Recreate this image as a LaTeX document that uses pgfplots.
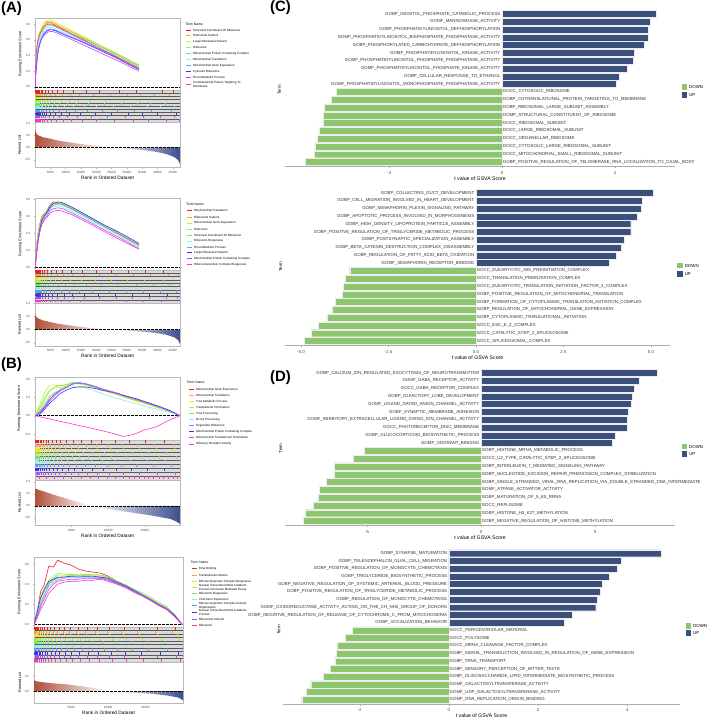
\documentclass[border=0pt]{standalone}
\usepackage{fontspec}
\setmainfont{Liberation Sans}
\usepackage{pgfplots}
\pgfplotsset{compat=1.18}
\definecolor{g1}{HTML}{FF1A1A}
\definecolor{g2}{HTML}{FFA033}
\definecolor{g3}{HTML}{E6E619}
\definecolor{g4}{HTML}{A6F233}
\definecolor{g5}{HTML}{66EE66}
\definecolor{g6}{HTML}{80F2F2}
\definecolor{g7}{HTML}{6699FF}
\definecolor{g8}{HTML}{3333FF}
\definecolor{g9}{HTML}{B84DFF}
\definecolor{g10}{HTML}{FF33CC}
\definecolor{upc}{HTML}{3B4F7D}
\definecolor{downc}{HTML}{8DC66E}
\definecolor{rankred}{HTML}{B0503A}
\definecolor{rankblue}{HTML}{3D4E8E}
\definecolor{tickgray}{HTML}{4D4D4D}
\newcommand{\fTick}{\fontsize{3.1}{3.5}\selectfont}
\newcommand{\fYl}{\fontsize{3.8}{4.2}\selectfont}
\newcommand{\fXl}{\fontsize{4.8}{5.2}\selectfont}
\newcommand{\fLeg}{\fontsize{3}{3.5}\selectfont}
\newcommand{\fLegT}{\fontsize{3.4}{3.8}\selectfont}
\newcommand{\fBar}{\fontsize{4.4}{4.8}\selectfont}
\newcommand{\fBT}{\fontsize{4.4}{4.8}\selectfont}
\newcommand{\fBX}{\fontsize{5.2}{5.6}\selectfont}
\newcommand{\fPan}{\fontsize{15}{17}\selectfont\bfseries}
\newcommand{\legent}[4]{%
  \draw[#3, line width=0.8pt] (#1,718-#2) -- ++(5,0);
  \node[anchor=west, font=\fLeg, inner sep=0pt, align=left] at (#1+7,718-#2) {#4};}
\pgfplotsset{
 gs/.style={scale only axis, width=145bp, xmin=0,
   axis line style={gray!55, line width=0.4pt},
   every tick/.style={gray!60, line width=0.3pt},
   major tick length=1.3bp, tick align=outside, xtick pos=left, ytick pos=left,
   tick label style={font=\fTick, text=tickgray},
   xticklabel style={yshift=1bp},
   xlabel style={font=\fXl, yshift=4.5bp},
   ylabel style={font=\fYl, yshift=-3bp},
   /pgf/number format/assume math mode=true,
   every axis plot/.append style={mark=none, line width=0.6pt}},
 gsrun/.style={gs, xtick=\empty, ylabel={Running Enrichment Score},
   yticklabel style={/pgf/number format/fixed, /pgf/number format/fixed zerofill, /pgf/number format/precision=1}},
 gshit/.style={gs, xtick=\empty, ymin=0, ymax=10, ytick={1,2,...,9}, yticklabels={},
   ytick style={draw=none}, ymajorgrids, major grid style={black!65, line width=0.3pt},
   axis background/.style={fill=gray!28}},
 gsrank/.style={gs, ylabel={Ranked List}, xlabel={Rank in Ordered Dataset}, scaled x ticks=false,
   xticklabel style={/pgf/number format/set thousands separator={}},
   ytick={-0.5,0,0.5,1},
   yticklabel style={/pgf/number format/fixed, /pgf/number format/fixed zerofill, /pgf/number format/precision=1}},
 hit/.style={only marks, mark=|, mark size=1.15bp, mark options={line width=0.3pt}},
 zl/.style={black, dash pattern=on 2.5bp off 1.5bp, line width=0.6pt},
 barax/.style={scale only axis, height=156.6bp, ymin=0.45, ymax=20.55,
   axis x line*=bottom, axis y line=none, ytick=\empty,
   axis line style={gray!65, line width=0.5pt},
   xtick style={gray!65, line width=0.4pt}, major tick length=2.2bp, tick align=outside,
   xticklabel style={font=\fBT, text=tickgray, yshift=1bp},
   xlabel={t value of GSVA Score}, xlabel style={font=\fBX, yshift=4.5bp},
   /pgf/number format/assume math mode=true, clip=false},
 upbar/.style={xbar, bar width=0.9, bar shift=0pt, fill=upc, draw=white!85!gray, line width=0.3pt},
 dnbar/.style={xbar, bar width=0.9, bar shift=0pt, fill=downc, draw=white!85!gray, line width=0.3pt},
 uplab/.style={draw=none, mark=none, nodes near coords, point meta=explicit symbolic,
   nodes near coords align={anchor=east},
   every node near coord/.append style={font=\fBar, inner sep=1.6bp, text=black!80}},
 dnlab/.style={draw=none, mark=none, nodes near coords, point meta=explicit symbolic,
   nodes near coords align={anchor=west},
   every node near coord/.append style={font=\fBar, inner sep=0.6bp, text=black!80}},
}
\begin{document}
\begin{tikzpicture}[x=1bp,y=1bp]
\useasboundingbox (0,0) rectangle (708,718);

% ================= (A) top =================
\node[anchor=west, font=\fPan, inner sep=0pt] at (1,709) {(A)};
\begin{axis}[gsrun, at={(35bp,628bp)}, anchor=south west, height=72bp, xmax=47400, ymin=-0.04, ymax=0.88, ytick={0,0.2,0.4,0.6,0.8}]
\addplot[zl] coordinates {(0,0)(47400,0)};
\addplot[g1] coordinates {(0,0)(200,0.28)(500,0.45)(900,0.58)(1400,0.66)(2000,0.70)(2600,0.76)(3300,0.79)(4200,0.82)(5000,0.82)(6500,0.79)(10000,0.72)(15000,0.62)(20000,0.52)(25000,0.42)(30000,0.32)(34000,0.24)};
\addplot[g2] coordinates {(0,0)(200,0.30)(500,0.48)(900,0.60)(1400,0.68)(2000,0.73)(2600,0.78)(3300,0.82)(4200,0.84)(5000,0.84)(6500,0.81)(10000,0.74)(15000,0.64)(20000,0.54)(25000,0.44)(30000,0.34)(34000,0.26)};
\addplot[g3] coordinates {(0,0)(200,0.29)(500,0.47)(900,0.60)(1400,0.69)(2000,0.74)(2600,0.79)(3300,0.83)(4200,0.85)(5000,0.86)(6500,0.83)(10000,0.76)(15000,0.66)(20000,0.56)(25000,0.46)(30000,0.36)(34000,0.27)};
\addplot[g4] coordinates {(0,0)(200,0.25)(500,0.42)(900,0.56)(1400,0.65)(2000,0.71)(2600,0.75)(3300,0.79)(4200,0.81)(5000,0.82)(6500,0.80)(10000,0.74)(15000,0.65)(20000,0.55)(25000,0.46)(30000,0.36)(34000,0.28)};
\addplot[g5] coordinates {(0,0)(200,0.22)(500,0.40)(900,0.53)(1400,0.62)(2000,0.68)(2600,0.72)(3300,0.76)(4200,0.78)(5000,0.79)(6500,0.77)(10000,0.71)(15000,0.63)(20000,0.54)(25000,0.45)(30000,0.35)(34000,0.27)};
\addplot[g6] coordinates {(0,0)(200,0.20)(500,0.38)(900,0.51)(1400,0.60)(2000,0.66)(2600,0.70)(3300,0.74)(4200,0.76)(5000,0.76)(6500,0.75)(10000,0.69)(15000,0.61)(20000,0.52)(25000,0.43)(30000,0.33)(34000,0.25)};
\addplot[g7] coordinates {(0,0)(200,0.15)(500,0.31)(900,0.45)(1400,0.55)(2000,0.62)(2600,0.67)(3300,0.71)(4200,0.73)(5000,0.74)(6500,0.73)(10000,0.67)(15000,0.59)(20000,0.50)(25000,0.41)(30000,0.31)(34000,0.23)};
\addplot[g8] coordinates {(0,0)(200,0.12)(500,0.27)(900,0.41)(1400,0.52)(2000,0.60)(2600,0.65)(3300,0.69)(4200,0.72)(5000,0.73)(6500,0.72)(10000,0.66)(15000,0.58)(20000,0.49)(25000,0.40)(30000,0.30)(34000,0.22)};
\addplot[g9] coordinates {(0,0)(200,0.14)(500,0.30)(900,0.43)(1400,0.53)(2000,0.60)(2600,0.64)(3300,0.67)(4200,0.70)(5000,0.71)(6500,0.70)(10000,0.64)(15000,0.55)(20000,0.46)(25000,0.37)(30000,0.28)(34000,0.20)};
\addplot[g10] coordinates {(0,0)(200,0.30)(500,0.47)(900,0.58)(1400,0.66)(2000,0.71)(2600,0.75)(3300,0.78)(4200,0.80)(5000,0.80)(6500,0.78)(10000,0.71)(15000,0.61)(20000,0.51)(25000,0.41)(30000,0.31)(34000,0.23)};
\end{axis}
\begin{axis}[gshit, at={(35bp,596bp)}, anchor=south west, height=32bp, xmax=47400]
\addplot[hit,g1] coordinates {(80,9.5)(250,9.5)(450,9.5)(700,9.5)(1000,9.5)(1400,9.5)(1900,9.5)(2500,9.5)(3300,9.5)(4300,9.5)(5600,9.5)(7200,9.5)(9300,9.5)(12500,9.5)(16800,9.5)(21000,9.5)(27500,9.5)(33000,9.5)(41500,9.5)(45000,9.5)};
\addplot[hit,g2] coordinates {(120,8.5)(330,8.5)(560,8.5)(850,8.5)(1200,8.5)(1650,8.5)(2200,8.5)(2900,8.5)(3800,8.5)(5000,8.5)(6500,8.5)(8800,8.5)(11500,8.5)(14500,8.5)(19000,8.5)(24500,8.5)(30000,8.5)(34500,8.5)(39000,8.5)(44000,8.5)};
\addplot[hit,g3] coordinates {(60,7.5)(200,7.5)(420,7.5)(650,7.5)(950,7.5)(1300,7.5)(1750,7.5)(2350,7.5)(3100,7.5)(4000,7.5)(5200,7.5)(6900,7.5)(9000,7.5)(12000,7.5)(15500,7.5)(20500,7.5)(26000,7.5)(31500,7.5)(35500,7.5)(46000,7.5)};
\addplot[hit,g4] coordinates {(150,6.5)(380,6.5)(620,6.5)(900,6.5)(1250,6.5)(1700,6.5)(2300,6.5)(3000,6.5)(3900,6.5)(5100,6.5)(6600,6.5)(8500,6.5)(11000,6.5)(14000,6.5)(18000,6.5)(23000,6.5)(29000,6.5)(34000,6.5)(38500,6.5)(43000,6.5)};
\addplot[hit,g5] coordinates {(100,5.5)(300,5.5)(520,5.5)(780,5.5)(1100,5.5)(1500,5.5)(2000,5.5)(2700,5.5)(3600,5.5)(4700,5.5)(6200,5.5)(8000,5.5)(10500,5.5)(13500,5.5)(17500,5.5)(22500,5.5)(28000,5.5)(33500,5.5)(37500,5.5)(42500,5.5)};
\addplot[hit,g6] coordinates {(200,4.5)(450,4.5)(700,4.5)(1000,4.5)(1400,4.5)(1900,4.5)(2500,4.5)(3300,4.5)(4300,4.5)(5600,4.5)(7300,4.5)(9500,4.5)(12500,4.5)(16000,4.5)(20000,4.5)(25500,4.5)(31000,4.5)(36500,4.5)(41000,4.5)(45500,4.5)};
\addplot[hit,g7] coordinates {(90,3.5)(280,3.5)(500,3.5)(760,3.5)(1080,3.5)(1480,3.5)(2000,3.5)(2650,3.5)(3500,3.5)(4600,3.5)(6000,3.5)(7800,3.5)(10200,3.5)(13200,3.5)(17000,3.5)(22000,3.5)(27000,3.5)(32500,3.5)(38000,3.5)(44500,3.5)};
\addplot[hit,g8] coordinates {(140,2.5)(360,2.5)(600,2.5)(880,2.5)(1220,2.5)(1650,2.5)(2200,2.5)(2900,2.5)(3800,2.5)(5000,2.5)(6500,2.5)(8500,2.5)(11200,2.5)(14800,2.5)(19500,2.5)(25000,2.5)(30500,2.5)(35000,2.5)(40000,2.5)(46000,2.5)};
\addplot[hit,g9] coordinates {(70,1.5)(240,1.5)(460,1.5)(720,1.5)(1040,1.5)(1440,1.5)(1950,1.5)(2600,1.5)(3450,1.5)(4550,1.5)(6000,1.5)(7900,1.5)(10400,1.5)(13800,1.5)(18200,1.5)(23500,1.5)(29500,1.5)(35500,1.5)(41000,1.5)(45500,1.5)};
\addplot[hit,g10] coordinates {(180,0.5)(420,0.5)(680,0.5)(980,0.5)(1350,0.5)(1800,0.5)(2400,0.5)(3150,0.5)(4100,0.5)(5400,0.5)(7000,0.5)(9100,0.5)(11900,0.5)(15500,0.5)(20000,0.5)(26000,0.5)(32000,0.5)(37000,0.5)(43000,0.5)(47000,0.5)};
\end{axis}
\begin{axis}[gsrank, at={(35bp,550.5bp)}, anchor=south west, height=45bp, xmax=47400, ymin=-0.82, ymax=1.02, xtick={5000,10000,...,45000}]
\addplot[draw=none, left color=rankred, right color=white] coordinates {(0,0)(0,0.77)(300,0.60)(1000,0.50)(2500,0.42)(5000,0.36)(7500,0.28)(10500,0.22)(15000,0.14)(20000,0.07)(24800,0)} \closedcycle;
\addplot[draw=none, left color=white, right color=rankblue] coordinates {(24800,0)(30000,-0.05)(35000,-0.10)(40000,-0.19)(43000,-0.27)(45600,-0.40)(46800,-0.52)(47400,-0.67)(47400,0)} \closedcycle;
\addplot[zl] coordinates {(0,0)(47400,0)};
\end{axis}
\begin{scope}
\clip (0,0) rectangle (258,718);
\node[anchor=west, font=\fLegT, inner sep=0pt] at (185.3,718-24.7) {Term Name};
\legent{186}{30}{g1}{Structural Constituent Of Ribosome}
\legent{186}{35.8}{g2}{Ribosomal Subunit}
\legent{186}{41.7}{g3}{Large Ribosomal Subunit}
\legent{186}{47.8}{g4}{Ribosome}
\legent{186}{53.8}{g5}{Mitochondrial Protein Containing Complex}
\legent{186}{59.7}{g6}{Mitochondrial Translation}
\legent{186}{65.7}{g7}{Mitochondrial Gene Expression}
\legent{186}{71.7}{g8}{Cytosolic Ribosome}
\legent{186}{77.7}{g9}{Rrna Metabolic Process}
\legent{186}{84.5}{g10}{Cotranslational Protein Targeting To\\Membrane}
\end{scope}

% ================= (A) bottom =================
\begin{axis}[gsrun, at={(35bp,448bp)}, anchor=south west, height=72bp, xmax=47400, ymin=-0.035, ymax=0.816, ytick={0,0.2,0.4,0.6,0.8}]
\addplot[zl] coordinates {(0,0)(47400,0)};
\addplot[g1] coordinates {(0,0)(300,0.14)(600,0.28)(1000,0.40)(1500,0.50)(2200,0.60)(3000,0.63)(4000,0.67)(5000,0.74)(6000,0.77)(7500,0.76)(9000,0.75)(12000,0.70)(17000,0.60)(22000,0.50)(28000,0.38)(34000,0.26)};
\addplot[g2] coordinates {(0,0)(300,0.13)(600,0.27)(1000,0.39)(1500,0.49)(2200,0.58)(3000,0.62)(4000,0.66)(5000,0.72)(6000,0.75)(7500,0.76)(9000,0.74)(12000,0.69)(17000,0.59)(22000,0.49)(28000,0.37)(34000,0.25)};
\addplot[g3] coordinates {(0,0)(300,0.12)(600,0.26)(1000,0.38)(1500,0.48)(2200,0.58)(3000,0.62)(4000,0.66)(5000,0.73)(6000,0.76)(7500,0.76)(9000,0.75)(12000,0.70)(17000,0.60)(22000,0.50)(28000,0.39)(34000,0.27)};
\addplot[g4] coordinates {(0,0)(300,0.13)(600,0.27)(1000,0.39)(1500,0.49)(2200,0.59)(3000,0.62)(4000,0.66)(5000,0.73)(6000,0.75)(7500,0.75)(9000,0.74)(12000,0.69)(17000,0.60)(22000,0.50)(28000,0.38)(34000,0.27)};
\addplot[g5] coordinates {(0,0)(300,0.12)(600,0.25)(1000,0.37)(1500,0.47)(2200,0.57)(3000,0.61)(4000,0.65)(5000,0.71)(6000,0.73)(7500,0.74)(9000,0.73)(12000,0.68)(17000,0.59)(22000,0.49)(28000,0.38)(34000,0.26)};
\addplot[g6] coordinates {(0,0)(300,0.10)(600,0.22)(1000,0.34)(1500,0.45)(2200,0.55)(3000,0.59)(4000,0.63)(5000,0.69)(6000,0.71)(7500,0.72)(9000,0.71)(12000,0.66)(17000,0.57)(22000,0.47)(28000,0.36)(34000,0.24)};
\addplot[g7] coordinates {(0,0)(300,0.09)(600,0.21)(1000,0.33)(1500,0.44)(2200,0.55)(3000,0.60)(4000,0.64)(5000,0.70)(6000,0.73)(7500,0.75)(9000,0.74)(12000,0.69)(17000,0.59)(22000,0.49)(28000,0.38)(34000,0.26)};
\addplot[g8] coordinates {(0,0)(300,0.08)(600,0.19)(1000,0.31)(1500,0.43)(2200,0.55)(3000,0.60)(4000,0.65)(5000,0.72)(6000,0.75)(7500,0.77)(9000,0.76)(12000,0.71)(17000,0.61)(22000,0.51)(28000,0.40)(34000,0.28)};
\addplot[g9] coordinates {(0,0)(300,0.09)(600,0.20)(1000,0.31)(1500,0.42)(2200,0.52)(3000,0.57)(4000,0.61)(5000,0.67)(6000,0.69)(7500,0.70)(9000,0.69)(12000,0.64)(17000,0.55)(22000,0.45)(28000,0.34)(34000,0.22)};
\addplot[g10] coordinates {(0,0)(300,0.08)(600,0.18)(1000,0.29)(1500,0.40)(2200,0.50)(3000,0.55)(4000,0.59)(5000,0.64)(6000,0.66)(7500,0.67)(9000,0.66)(12000,0.62)(17000,0.53)(22000,0.43)(28000,0.32)(34000,0.21)};
\end{axis}
\begin{axis}[gshit, at={(35bp,415bp)}, anchor=south west, height=33bp, xmax=47400]
\addplot[hit,g1] coordinates {(50,9.5)(220,9.5)(400,9.5)(640,9.5)(920,9.5)(1280,9.5)(1720,9.5)(2280,9.5)(3000,9.5)(3950,9.5)(5200,9.5)(6800,9.5)(8900,9.5)(11800,9.5)(15500,9.5)(20000,9.5)(25000,9.5)(30500,9.5)(36000,9.5)(42000,9.5)};
\addplot[hit,g2] coordinates {(170,8.5)(400,8.5)(650,8.5)(940,8.5)(1300,8.5)(1750,8.5)(2350,8.5)(3100,8.5)(4100,8.5)(5400,8.5)(7100,8.5)(9300,8.5)(12200,8.5)(16000,8.5)(21000,8.5)(26500,8.5)(32000,8.5)(37500,8.5)(43500,8.5)(46800,8.5)};
\addplot[hit,g3] coordinates {(110,7.5)(310,7.5)(540,7.5)(820,7.5)(1150,7.5)(1580,7.5)(2100,7.5)(2800,7.5)(3700,7.5)(4850,7.5)(6350,7.5)(8300,7.5)(10900,7.5)(14200,7.5)(18500,7.5)(23800,7.5)(29200,7.5)(34800,7.5)(40500,7.5)(45200,7.5)};
\addplot[hit,g4] coordinates {(30,6.5)(190,6.5)(380,6.5)(610,6.5)(890,6.5)(1230,6.5)(1660,6.5)(2200,6.5)(2900,6.5)(3800,6.5)(5000,6.5)(6600,6.5)(8700,6.5)(11400,6.5)(15000,6.5)(19600,6.5)(24800,6.5)(30200,6.5)(35800,6.5)(41800,6.5)};
\addplot[hit,g5] coordinates {(230,5.5)(480,5.5)(750,5.5)(1060,5.5)(1450,5.5)(1950,5.5)(2600,5.5)(3400,5.5)(4450,5.5)(5800,5.5)(7600,5.5)(9900,5.5)(12900,5.5)(16700,5.5)(21500,5.5)(27000,5.5)(33000,5.5)(38500,5.5)(43800,5.5)(47100,5.5)};
\addplot[hit,g6] coordinates {(90,4.5)(270,4.5)(480,4.5)(740,4.5)(1050,4.5)(1430,4.5)(1920,4.5)(2550,4.5)(3350,4.5)(4400,4.5)(5750,4.5)(7500,4.5)(9800,4.5)(12800,4.5)(16500,4.5)(21200,4.5)(26800,4.5)(32800,4.5)(39000,4.5)(44800,4.5)};
\addplot[hit,g7] coordinates {(140,3.5)(350,3.5)(590,3.5)(870,3.5)(1200,3.5)(1620,3.5)(2150,3.5)(2850,3.5)(3750,3.5)(4900,3.5)(6400,3.5)(8400,3.5)(11000,3.5)(14400,3.5)(18800,3.5)(24200,3.5)(29800,3.5)(35200,3.5)(40800,3.5)(46200,3.5)};
\addplot[hit,g8] coordinates {(60,2.5)(230,2.5)(440,2.5)(690,2.5)(990,2.5)(1360,2.5)(1830,2.5)(2430,2.5)(3200,2.5)(4200,2.5)(5500,2.5)(7200,2.5)(9400,2.5)(12300,2.5)(16100,2.5)(20800,2.5)(26200,2.5)(31800,2.5)(37200,2.5)(43200,2.5)};
\addplot[hit,g9] coordinates {(200,1.5)(440,1.5)(700,1.5)(1000,1.5)(1370,1.5)(1840,1.5)(2450,1.5)(3230,1.5)(4250,1.5)(5550,1.5)(7250,1.5)(9450,1.5)(12350,1.5)(16150,1.5)(20900,1.5)(26400,1.5)(31900,1.5)(37400,1.5)(42900,1.5)(46600,1.5)};
\addplot[hit,g10] coordinates {(20,0.5)(170,0.5)(360,0.5)(590,0.5)(870,0.5)(1210,0.5)(1640,0.5)(2180,0.5)(2880,0.5)(3780,0.5)(4950,0.5)(6500,0.5)(8500,0.5)(11100,0.5)(14600,0.5)(19100,0.5)(24400,0.5)(29800,0.5)(35400,0.5)(41400,0.5)};
\end{axis}
\begin{axis}[gsrank, at={(35bp,372bp)}, anchor=south west, height=43bp, xmax=47400, ymin=-0.62, ymax=1.0, xtick={5000,10000,...,45000}]
\addplot[draw=none, left color=rankred, right color=white] coordinates {(0,0)(0,0.60)(300,0.50)(1000,0.42)(2500,0.35)(5000,0.28)(7500,0.22)(10500,0.17)(15000,0.10)(20000,0.04)(24800,0)} \closedcycle;
\addplot[draw=none, left color=white, right color=rankblue] coordinates {(24800,0)(30000,-0.04)(35000,-0.08)(40000,-0.14)(43000,-0.20)(45600,-0.30)(46800,-0.40)(47400,-0.55)(47400,0)} \closedcycle;
\addplot[zl] coordinates {(0,0)(47400,0)};
\end{axis}
\begin{scope}
\clip (0,0) rectangle (258,718);
\node[anchor=west, font=\fLegT, inner sep=0pt] at (186,718-204.3) {Term Name};
\legent{187}{210.7}{g1}{Mitochondrial Translation}
\legent{187}{217}{g2}{Ribosomal Subunit}
\legent{187}{223}{g3}{Mitochondrial Gene Expression}
\legent{187}{229}{g4}{Ribosome}
\legent{187}{235}{g5}{Structural Constituent Of Ribosome}
\legent{187}{241}{g6}{Ribosome Biogenesis}
\legent{187}{247}{g7}{Rrna Metabolic Process}
\legent{187}{252.7}{g8}{Large Ribosomal Subunit}
\legent{187}{258.7}{g9}{Mitochondrial Protein Containing Complex}
\legent{187}{264.7}{g10}{Ribonucleoprotein Complex Biogenesis}
\end{scope}

% ================= (B) top =================
\node[anchor=west, font=\fPan, inner sep=0pt] at (1,718-365) {(B)};
\begin{axis}[gsrun, at={(35bp,278bp)}, anchor=south west, height=63bp, xmax=19800, ymin=-0.397, ymax=0.633, ytick={-0.3,0,0.3,0.6}]
\addplot[zl] coordinates {(0,0)(19800,0)};
\addplot[g1] coordinates {(0,0)(400,0.02)(900,0.08)(1400,0.15)(2000,0.26)(2700,0.36)(3400,0.42)(4300,0.47)(5200,0.53)(6000,0.54)(6800,0.52)(8000,0.48)(9500,0.42)(11000,0.37)(12500,0.31)(14000,0.25)(15500,0.19)(17000,0.13)(18500,0.07)(19800,0)};
\addplot[g2] coordinates {(0,0)(400,0.03)(900,0.10)(1400,0.18)(2000,0.30)(2700,0.38)(3400,0.43)(4300,0.48)(5200,0.52)(6000,0.53)(6800,0.51)(8000,0.47)(9500,0.41)(11000,0.36)(12500,0.30)(14000,0.24)(15500,0.19)(17000,0.13)(18500,0.07)(19800,0)};
\addplot[g3] coordinates {(0,0)(400,0.08)(900,0.20)(1400,0.32)(2000,0.42)(2700,0.45)(3400,0.46)(4300,0.48)(5200,0.52)(6000,0.52)(6800,0.50)(8000,0.46)(9500,0.40)(11000,0.35)(12500,0.29)(14000,0.23)(15500,0.18)(17000,0.12)(18500,0.06)(19800,0)};
\addplot[g4] coordinates {(0,0)(400,0.10)(900,0.25)(1400,0.40)(2000,0.50)(2700,0.50)(3400,0.49)(4300,0.50)(5200,0.54)(6000,0.53)(6800,0.51)(8000,0.47)(9500,0.41)(11000,0.36)(12500,0.30)(14000,0.25)(15500,0.19)(17000,0.13)(18500,0.07)(19800,0)};
\addplot[g5] coordinates {(0,0)(400,0.06)(900,0.16)(1400,0.28)(2000,0.40)(2700,0.47)(3400,0.49)(4300,0.51)(5200,0.55)(6000,0.54)(6800,0.52)(8000,0.48)(9500,0.42)(11000,0.37)(12500,0.31)(14000,0.26)(15500,0.20)(17000,0.14)(18500,0.07)(19800,0)};
\addplot[g6] coordinates {(0,0)(400,0.05)(900,0.12)(1400,0.22)(2000,0.32)(2700,0.38)(3400,0.42)(4300,0.46)(5200,0.49)(6000,0.48)(6800,0.46)(8000,0.41)(9500,0.35)(11000,0.29)(12500,0.24)(14000,0.19)(15500,0.14)(17000,0.09)(18500,0.05)(19800,0)};
\addplot[g7] coordinates {(0,0)(400,0.04)(900,0.10)(1400,0.18)(2000,0.27)(2700,0.35)(3400,0.41)(4300,0.47)(5200,0.53)(6000,0.54)(6800,0.53)(8000,0.49)(9500,0.43)(11000,0.38)(12500,0.32)(14000,0.27)(15500,0.21)(17000,0.15)(18500,0.08)(19800,0)};
\addplot[g8] coordinates {(0,0)(400,0.01)(900,0.05)(1400,0.12)(2000,0.20)(2700,0.28)(3400,0.36)(4300,0.42)(5200,0.46)(6000,0.47)(6800,0.47)(8000,0.45)(9500,0.41)(11000,0.37)(12500,0.32)(14000,0.27)(15500,0.21)(17000,0.15)(18500,0.08)(19800,0)};
\addplot[g9] coordinates {(0,0)(400,0.02)(900,0.07)(1400,0.14)(2000,0.24)(2700,0.33)(3400,0.40)(4300,0.46)(5200,0.52)(6000,0.53)(6800,0.52)(8000,0.48)(9500,0.42)(11000,0.37)(12500,0.31)(14000,0.26)(15500,0.20)(17000,0.14)(18500,0.07)(19800,0)};
\addplot[g10] coordinates {(0,0)(3000,-0.08)(6000,-0.16)(9000,-0.24)(11000,-0.30)(12000,-0.34)(13400,-0.31)(14800,-0.24)(16600,-0.18)(18000,-0.09)(19800,0)};
\end{axis}
\begin{axis}[gshit, at={(35bp,238bp)}, anchor=south west, height=40bp, xmax=19800]
\addplot[hit,mark size=1.5bp,g1] coordinates {(40,9.5)(150,9.5)(290,9.5)(450,9.5)(640,9.5)(870,9.5)(1140,9.5)(1460,9.5)(1840,9.5)(2300,9.5)(2850,9.5)(3500,9.5)(4300,9.5)(5200,9.5)(6300,9.5)(7600,9.5)(9100,9.5)(10900,9.5)(12900,9.5)(15100,9.5)(17600,9.5)};
\addplot[hit,mark size=1.5bp,g2] coordinates {(90,8.5)(220,8.5)(370,8.5)(550,8.5)(760,8.5)(1010,8.5)(1310,8.5)(1670,8.5)(2100,8.5)(2600,8.5)(3200,8.5)(3900,8.5)(4750,8.5)(5750,8.5)(6950,8.5)(8350,8.5)(10000,8.5)(11900,8.5)(14000,8.5)(16300,8.5)(18800,8.5)};
\addplot[hit,mark size=1.5bp,g3] coordinates {(20,7.5)(120,7.5)(250,7.5)(400,7.5)(580,7.5)(800,7.5)(1060,7.5)(1370,7.5)(1740,7.5)(2180,7.5)(2700,7.5)(3320,7.5)(4050,7.5)(4900,7.5)(5900,7.5)(7100,7.5)(8500,7.5)(10200,7.5)(12100,7.5)(14200,7.5)(16600,7.5)(19000,7.5)};
\addplot[hit,mark size=1.5bp,g4] coordinates {(60,6.5)(190,6.5)(340,6.5)(510,6.5)(710,6.5)(950,6.5)(1240,6.5)(1580,6.5)(1980,6.5)(2460,6.5)(3030,6.5)(3700,6.5)(4500,6.5)(5450,6.5)(6550,6.5)(7850,6.5)(9400,6.5)(11200,6.5)(13200,6.5)(15400,6.5)(17900,6.5)};
\addplot[hit,mark size=1.5bp,g5] coordinates {(110,5.5)(260,5.5)(420,5.5)(610,5.5)(840,5.5)(1110,5.5)(1430,5.5)(1810,5.5)(2260,5.5)(2790,5.5)(3420,5.5)(4170,5.5)(5050,5.5)(6080,5.5)(7300,5.5)(8750,5.5)(10450,5.5)(12400,5.5)(14600,5.5)(17000,5.5)(19300,5.5)};
\addplot[hit,mark size=1.5bp,g6] coordinates {(30,4.5)(160,4.5)(310,4.5)(480,4.5)(680,4.5)(920,4.5)(1200,4.5)(1540,4.5)(1940,4.5)(2410,4.5)(2970,4.5)(3630,4.5)(4410,4.5)(5330,4.5)(6420,4.5)(7700,4.5)(9200,4.5)(11000,4.5)(13000,4.5)(15300,4.5)(17800,4.5)};
\addplot[hit,mark size=1.5bp,g7] coordinates {(80,3.5)(210,3.5)(360,3.5)(540,3.5)(750,3.5)(1000,3.5)(1300,3.5)(1660,3.5)(2080,3.5)(2580,3.5)(3170,3.5)(3870,3.5)(4700,3.5)(5680,3.5)(6830,3.5)(8200,3.5)(9800,3.5)(11700,3.5)(13800,3.5)(16100,3.5)(18600,3.5)};
\addplot[hit,mark size=1.5bp,g8] coordinates {(50,2.5)(170,2.5)(320,2.5)(490,2.5)(690,2.5)(930,2.5)(1220,2.5)(1560,2.5)(1960,2.5)(2430,2.5)(3000,2.5)(3670,2.5)(4460,2.5)(5380,2.5)(6480,2.5)(7780,2.5)(9300,2.5)(11100,2.5)(13100,2.5)(15300,2.5)(17700,2.5)};
\addplot[hit,mark size=1.5bp,g9] coordinates {(100,1.5)(240,1.5)(400,1.5)(590,1.5)(810,1.5)(1070,1.5)(1380,1.5)(1750,1.5)(2190,1.5)(2710,1.5)(3330,1.5)(4060,1.5)(4920,1.5)(5930,1.5)(7120,1.5)(8530,1.5)(10180,1.5)(12100,1.5)(14250,1.5)(16650,1.5)(19200,1.5)};
\addplot[hit,mark size=1.5bp,g10] coordinates {(600,0.5)(1500,0.5)(2600,0.5)(3800,0.5)(5000,0.5)(6300,0.5)(7500,0.5)(8600,0.5)(9800,0.5)(10900,0.5)(12000,0.5)(12800,0.5)(13500,0.5)(14200,0.5)(14900,0.5)(15500,0.5)(16200,0.5)(16900,0.5)(17500,0.5)(18200,0.5)(18800,0.5)(19400,0.5)};
\end{axis}
\begin{axis}[gsrank, at={(35bp,192.5bp)}, anchor=south west, height=45.5bp, xmax=19800, ymin=-0.82, ymax=1.08, xtick={5000,10000,15000}]
\addplot[draw=none, left color=rankred, right color=white] coordinates {(0,0)(0,0.72)(1000,0.62)(2000,0.52)(3000,0.42)(4000,0.33)(5000,0.24)(6000,0.15)(7000,0.06)(7600,0)} \closedcycle;
\addplot[draw=none, left color=white, right color=rankblue] coordinates {(7600,0)(9000,-0.08)(11000,-0.18)(13000,-0.27)(15000,-0.36)(17000,-0.46)(18500,-0.55)(19300,-0.65)(19800,-0.76)(19800,0)} \closedcycle;
\addplot[zl] coordinates {(0,0)(19800,0)};
\end{axis}
\begin{scope}
\clip (0,0) rectangle (258,718);
\node[anchor=west, font=\fLegT, inner sep=0pt] at (186.7,718-382.7) {Term Name};
\legent{189}{389.7}{g1}{Mitochondrial Gene Expression}
\legent{189}{395.5}{g2}{Mitochondrial Translation}
\legent{189}{401.3}{g3}{Trna Metabolic Process}
\legent{189}{407.3}{g4}{Translational Termination}
\legent{189}{413.3}{g5}{Trna Processing}
\legent{189}{419.5}{g6}{Ncrna Processing}
\legent{189}{425.7}{g7}{Organellar Ribosome}
\legent{189}{431.7}{g8}{Mitochondrial Protein Containing Complex}
\legent{189}{437.8}{g9}{Mitochondrial Translational Termination}
\legent{189}{444}{g10}{Olfactory Receptor Activity}
\end{scope}

% ================= (B) bottom =================
\begin{axis}[gsrun, at={(34bp,91bp)}, anchor=south west, width=149bp, height=70bp, xmax=20100, ymin=-0.023, ymax=0.67, ytick={0,0.2,0.4,0.6}]
\addplot[zl] coordinates {(0,0)(20100,0)};
\addplot[g1] coordinates {(0,0)(400,0.12)(900,0.33)(1400,0.40)(2000,0.58)(2600,0.57)(3200,0.64)(4000,0.61)(5000,0.59)(6000,0.55)(7000,0.53)(8000,0.52)(9000,0.51)(10000,0.48)(11200,0.43)(12500,0.38)(13500,0.34)(14700,0.29)(15700,0.25)(16800,0.20)(17900,0.16)(19000,0.09)(20000,0)};
\addplot[g2] coordinates {(0,0)(400,0.10)(900,0.22)(1400,0.30)(2000,0.38)(2600,0.42)(3200,0.44)(4000,0.46)(5000,0.47)(6000,0.47)(7000,0.48)(8000,0.47)(9000,0.47)(10000,0.45)(11200,0.41)(12500,0.37)(13500,0.33)(14700,0.28)(15700,0.24)(16800,0.19)(17900,0.15)(19000,0.08)(20000,0)};
\addplot[g3] coordinates {(0,0)(400,0.12)(900,0.25)(1400,0.33)(2000,0.41)(2600,0.45)(3200,0.47)(4000,0.48)(5000,0.49)(6000,0.48)(7000,0.49)(8000,0.48)(9000,0.48)(10000,0.46)(11200,0.42)(12500,0.38)(13500,0.34)(14700,0.29)(15700,0.25)(16800,0.20)(17900,0.16)(19000,0.09)(20000,0)};
\addplot[g4] coordinates {(0,0)(400,0.14)(900,0.28)(1400,0.36)(2000,0.44)(2600,0.48)(3200,0.51)(4000,0.50)(5000,0.50)(6000,0.49)(7000,0.50)(8000,0.50)(9000,0.49)(10000,0.47)(11200,0.43)(12500,0.39)(13500,0.35)(14700,0.30)(15700,0.26)(16800,0.21)(17900,0.17)(19000,0.10)(20000,0)};
\addplot[g5] coordinates {(0,0)(400,0.13)(900,0.26)(1400,0.34)(2000,0.42)(2600,0.46)(3200,0.49)(4000,0.49)(5000,0.50)(6000,0.49)(7000,0.50)(8000,0.49)(9000,0.49)(10000,0.47)(11200,0.43)(12500,0.39)(13500,0.35)(14700,0.31)(15700,0.27)(16800,0.22)(17900,0.18)(19000,0.10)(20000,0)};
\addplot[g6] coordinates {(0,0)(400,0.10)(900,0.22)(1400,0.30)(2000,0.38)(2600,0.42)(3200,0.45)(4000,0.46)(5000,0.47)(6000,0.46)(7000,0.47)(8000,0.46)(9000,0.46)(10000,0.44)(11200,0.40)(12500,0.36)(13500,0.32)(14700,0.28)(15700,0.24)(16800,0.19)(17900,0.15)(19000,0.08)(20000,0)};
\addplot[g7] coordinates {(0,0)(400,0.09)(900,0.20)(1400,0.29)(2000,0.40)(2600,0.44)(3200,0.46)(4000,0.47)(5000,0.48)(6000,0.47)(7000,0.48)(8000,0.47)(9000,0.47)(10000,0.45)(11200,0.41)(12500,0.37)(13500,0.33)(14700,0.29)(15700,0.24)(16800,0.20)(17900,0.15)(19000,0.08)(20000,0)};
\addplot[g8] coordinates {(0,0)(400,0.12)(900,0.27)(1400,0.35)(2000,0.43)(2600,0.45)(3200,0.47)(4000,0.47)(5000,0.48)(6000,0.48)(7000,0.48)(8000,0.48)(9000,0.47)(10000,0.46)(11200,0.42)(12500,0.38)(13500,0.34)(14700,0.29)(15700,0.25)(16800,0.20)(17900,0.16)(19000,0.09)(20000,0)};
\addplot[g9] coordinates {(0,0)(400,0.08)(900,0.18)(1400,0.26)(2000,0.35)(2600,0.40)(3200,0.43)(4000,0.44)(5000,0.45)(6000,0.45)(7000,0.46)(8000,0.46)(9000,0.46)(10000,0.44)(11200,0.41)(12500,0.37)(13500,0.33)(14700,0.29)(15700,0.25)(16800,0.20)(17900,0.16)(19000,0.08)(20000,0)};
\addplot[g10] coordinates {(0,0)(400,0.06)(900,0.15)(1400,0.22)(2000,0.31)(2600,0.36)(3200,0.40)(4000,0.42)(5000,0.43)(6000,0.43)(7000,0.44)(8000,0.44)(9000,0.45)(10000,0.43)(11200,0.40)(12500,0.36)(13500,0.32)(14700,0.28)(15700,0.24)(16800,0.19)(17900,0.15)(19000,0.08)(20000,0)};
\end{axis}
\begin{axis}[gshit, at={(34bp,56bp)}, anchor=south west, width=149bp, height=35bp, xmax=20100]
\addplot[hit,mark size=1.3bp,g1] coordinates {(30,9.5)(130,9.5)(260,9.5)(410,9.5)(590,9.5)(810,9.5)(1070,9.5)(1380,9.5)(1750,9.5)(2190,9.5)(2710,9.5)(3330,9.5)(4060,9.5)(4920,9.5)(5930,9.5)(7120,9.5)(8530,9.5)(10180,9.5)(12100,9.5)(14250,9.5)(16650,9.5)(19000,9.5)};
\addplot[hit,mark size=1.3bp,g2] coordinates {(80,8.5)(200,8.5)(350,8.5)(520,8.5)(730,8.5)(980,8.5)(1280,8.5)(1640,8.5)(2070,8.5)(2580,8.5)(3180,8.5)(3890,8.5)(4730,8.5)(5720,8.5)(6890,8.5)(8260,8.5)(9880,8.5)(11780,8.5)(13900,8.5)(16300,8.5)(18700,8.5)};
\addplot[hit,mark size=1.3bp,g3] coordinates {(10,7.5)(110,7.5)(240,7.5)(390,7.5)(570,7.5)(790,7.5)(1050,7.5)(1360,7.5)(1730,7.5)(2170,7.5)(2690,7.5)(3310,7.5)(4040,7.5)(4900,7.5)(5900,7.5)(7080,7.5)(8480,7.5)(10130,7.5)(12050,7.5)(14200,7.5)(16600,7.5)(19300,7.5)};
\addplot[hit,mark size=1.3bp,g4] coordinates {(120,6.5)(270,6.5)(440,6.5)(640,6.5)(870,6.5)(1150,6.5)(1480,6.5)(1870,6.5)(2330,6.5)(2870,6.5)(3510,6.5)(4260,6.5)(5140,6.5)(6170,6.5)(7390,6.5)(8820,6.5)(10500,6.5)(12450,6.5)(14650,6.5)(17100,6.5)(19600,6.5)};
\addplot[hit,mark size=1.3bp,g5] coordinates {(50,5.5)(170,5.5)(320,5.5)(490,5.5)(690,5.5)(930,5.5)(1220,5.5)(1560,5.5)(1960,5.5)(2430,5.5)(3000,5.5)(3670,5.5)(4460,5.5)(5380,5.5)(6480,5.5)(7780,5.5)(9300,5.5)(11100,5.5)(13100,5.5)(15300,5.5)(17700,5.5)};
\addplot[hit,mark size=1.3bp,g6] coordinates {(150,4.5)(300,4.5)(470,4.5)(670,4.5)(900,4.5)(1180,4.5)(1510,4.5)(1900,4.5)(2360,4.5)(2900,4.5)(3540,4.5)(4290,4.5)(5170,4.5)(6200,4.5)(7420,4.5)(8850,4.5)(10520,4.5)(12480,4.5)(14680,4.5)(17150,4.5)(19800,4.5)};
\addplot[hit,mark size=1.3bp,g7] coordinates {(70,3.5)(190,3.5)(340,3.5)(510,3.5)(710,3.5)(950,3.5)(1240,3.5)(1580,3.5)(1980,3.5)(2460,3.5)(3030,3.5)(3700,3.5)(4500,3.5)(5450,3.5)(6550,3.5)(7850,3.5)(9400,3.5)(11200,3.5)(13200,3.5)(15400,3.5)(17900,3.5)};
\addplot[hit,mark size=1.3bp,g8] coordinates {(20,2.5)(140,2.5)(280,2.5)(440,2.5)(630,2.5)(860,2.5)(1130,2.5)(1450,2.5)(1830,2.5)(2280,2.5)(2810,2.5)(3440,2.5)(4180,2.5)(5050,2.5)(6070,2.5)(7280,2.5)(8700,2.5)(10380,2.5)(12320,2.5)(14500,2.5)(16950,2.5)(19500,2.5)};
\addplot[hit,mark size=1.3bp,g9] coordinates {(100,1.5)(240,1.5)(400,1.5)(590,1.5)(810,1.5)(1070,1.5)(1380,1.5)(1750,1.5)(2190,1.5)(2710,1.5)(3330,1.5)(4060,1.5)(4920,1.5)(5930,1.5)(7120,1.5)(8530,1.5)(10180,1.5)(12100,1.5)(14250,1.5)(16650,1.5)(19200,1.5)};
\addplot[hit,mark size=1.3bp,g10] coordinates {(40,0.5)(160,0.5)(300,0.5)(470,0.5)(670,0.5)(900,0.5)(1180,0.5)(1510,0.5)(1900,0.5)(2360,0.5)(2900,0.5)(3540,0.5)(4290,0.5)(5170,0.5)(6200,0.5)(7420,0.5)(8850,0.5)(10520,0.5)(12480,0.5)(14680,0.5)(17150,0.5)(19700,0.5)};
\end{axis}
\begin{axis}[gsrank, at={(34bp,15bp)}, anchor=south west, width=149bp, height=41bp, xmax=20100, ymin=-0.40, ymax=0.97, xtick={5000,10000,15000}, ytick={0,0.5}]
\addplot[draw=none, left color=rankred, right color=white] coordinates {(0,0)(0,0.38)(200,0.33)(1000,0.30)(2500,0.26)(4500,0.22)(7000,0.14)(9000,0.07)(10300,0)} \closedcycle;
\addplot[draw=none, left color=white, right color=rankblue] coordinates {(10300,0)(12500,-0.04)(15700,-0.09)(18000,-0.15)(19500,-0.22)(20100,-0.31)(20100,0)} \closedcycle;
\addplot[zl] coordinates {(0,0)(20100,0)};
\end{axis}
\begin{scope}
\clip (0,0) rectangle (258,718);
\node[anchor=west, font=\fLegT, inner sep=0pt] at (190.7,718-562) {Term Name};
\legent{191.7}{568.7}{g1}{Rrna Binding}
\legent{191.7}{575}{g2}{Translational Initiation}
\legent{191.7}{581.3}{g3}{Ribonucleoprotein Complex Biogenesis}
\legent{191.7}{587.5}{g4}{Nuclear Transcribed Mrna Catabolic\\Process Nonsense Mediated Decay}
\legent{191.7}{593.3}{g5}{Ribosome Biogenesis}
\legent{191.7}{599.3}{g6}{Viral Gene Expression}
\legent{191.7}{605.5}{g7}{Ribonucleoprotein Complex Subunit\\Organization}
\legent{191.7}{612.3}{g8}{Nuclear Transcribed Mrna Catabolic\\Process}
\legent{191.7}{619}{g9}{Ribosomal Subunit}
\legent{191.7}{625.3}{g10}{Ribosome}
\end{scope}

% ================= (C) top =================
\node[anchor=west, font=\fPan, inner sep=0pt] at (270,710) {(C)};
\node[rotate=90, font=\fBT] at (279.3,718-90) {Term};
\begin{axis}[barax, at={(285bp,551.7bp)}, anchor=south west, width=390bp, xmin=-7.70, xmax=6.13, xtick={-4,0,4}]
\addplot[upbar] coordinates {(5.46,20)(5.26,19)(5.18,18)(5.18,17)(5.04,16)(4.69,15)(4.64,14)(4.44,13)(4.16,12)(4.05,11)};
\addplot[dnbar] coordinates {(-5.87,10)(-6.05,9)(-6.30,8)(-6.33,7)(-6.36,6)(-6.50,5)(-6.57,4)(-6.64,3)(-6.67,2)(-6.99,1)};
\addplot[uplab] coordinates {(0,20)[GOBP\_INOSITOL\_PHOSPHATE\_CATABOLIC\_PROCESS] (0,19)[GOMF\_MANNOSIDASE\_ACTIVITY] (0,18)[GOBP\_PHOSPHATIDYLINOSITOL\_DEPHOSPHORYLATION] (0,17)[GOMF\_PHOSPHATIDYLINOSITOL\_BISPHOSPHATE\_PHOSPHATASE\_ACTIVITY] (0,16)[GOBP\_PHOSPHORYLATED\_CARBOHYDRATE\_DEPHOSPHORYLATION] (0,15)[GOMF\_PHOSPHATIDYLINOSITOL\_KINASE\_ACTIVITY] (0,14)[GOMF\_PHOSPHATIDYLINOSITOL\_PHOSPHATE\_PHOSPHATASE\_ACTIVITY] (0,13)[GOMF\_PHOSPHATIDYLINOSITOL\_PHOSPHATE\_KINASE\_ACTIVITY] (0,12)[GOBP\_CELLULAR\_RESPONSE\_TO\_ETHANOL] (0,11)[GOMF\_PHOSPHATIDYLINOSITOL\_MONOPHOSPHATE\_PHOSPHATASE\_ACTIVITY]};
\addplot[dnlab] coordinates {(0,10)[GOCC\_CYTOSOLIC\_RIBOSOME] (0,9)[GOBP\_COTRANSLATIONAL\_PROTEIN\_TARGETING\_TO\_MEMBRANE] (0,8)[GOBP\_RIBOSOMAL\_LARGE\_SUBUNIT\_ASSEMBLY] (0,7)[GOMF\_STRUCTURAL\_CONSTITUENT\_OF\_RIBOSOME] (0,6)[GOCC\_RIBOSOMAL\_SUBUNIT] (0,5)[GOCC\_LARGE\_RIBOSOMAL\_SUBUNIT] (0,4)[GOCC\_ORGANELLAR\_RIBOSOME] (0,3)[GOCC\_CYTOSOLIC\_LARGE\_RIBOSOMAL\_SUBUNIT] (0,2)[GOCC\_MITOCHONDRIAL\_SMALL\_RIBOSOMAL\_SUBUNIT] (0,1)[GOBP\_POSITIVE\_REGULATION\_OF\_TELOMERASE\_RNA\_LOCALIZATION\_TO\_CAJAL\_BODY]};
\end{axis}
\fill[downc] (681.7,718-87-2.8) rectangle ++(5.6,5.6);
\fill[upc] (681.7,718-95.3-2.8) rectangle ++(5.6,5.6);
\node[anchor=west, font=\fBT, inner sep=0pt] at (689,718-87) {DOWN};
\node[anchor=west, font=\fBT, inner sep=0pt] at (689,718-95.3) {UP};

% ================= (C) bottom =================
\node[rotate=90, font=\fBT] at (280.7,718-266.7) {Term};
\begin{axis}[barax, at={(285bp,372.7bp)}, anchor=south west, width=385bp, xmin=-5.457, xmax=5.543, xtick={-5,-2.5,0,2.5,5},
  xticklabel style={/pgf/number format/fixed, /pgf/number format/fixed zerofill, /pgf/number format/precision=1}]
\addplot[upbar] coordinates {(5.05,20)(4.75,19)(4.72,18)(4.61,17)(4.42,16)(4.42,15)(4.24,14)(4.15,13)(4.01,12)(3.80,11)};
\addplot[dnbar] coordinates {(-3.61,10)(-3.75,9)(-3.80,8)(-3.83,7)(-4.02,6)(-4.12,5)(-4.26,4)(-4.50,3)(-4.71,2)(-4.91,1)};
\addplot[uplab] coordinates {(0,20)[GOBP\_COLLECTING\_DUCT\_DEVELOPMENT] (0,19)[GOBP\_CELL\_MIGRATION\_INVOLVED\_IN\_HEART\_DEVELOPMENT] (0,18)[GOBP\_SEMAPHORIN\_PLEXIN\_SIGNALING\_PATHWAY] (0,17)[GOBP\_APOPTOTIC\_PROCESS\_INVOLVED\_IN\_MORPHOGENESIS] (0,16)[GOBP\_HIGH\_DENSITY\_LIPOPROTEIN\_PARTICLE\_ASSEMBLY] (0,15)[GOBP\_POSITIVE\_REGULATION\_OF\_TRIGLYCERIDE\_METABOLIC\_PROCESS] (0,14)[GOBP\_POSTSYNAPTIC\_SPECIALIZATION\_ASSEMBLY] (0,13)[GOBP\_BETA\_CATENIN\_DESTRUCTION\_COMPLEX\_DISASSEMBLY] (0,12)[GOBP\_REGULATION\_OF\_FATTY\_ACID\_BETA\_OXIDATION] (0,11)[GOMF\_SEMAPHORIN\_RECEPTOR\_BINDING]};
\addplot[dnlab] coordinates {(0,10)[GOCC\_EUKARYOTIC\_48S\_PREINITIATION\_COMPLEX] (0,9)[GOCC\_TRANSLATION\_PREINITIATION\_COMPLEX] (0,8)[GOCC\_EUKARYOTIC\_TRANSLATION\_INITIATION\_FACTOR\_3\_COMPLEX] (0,7)[GOBP\_POSITIVE\_REGULATION\_OF\_MITOCHONDRIAL\_TRANSLATION] (0,6)[GOBP\_FORMATION\_OF\_CYTOPLASMIC\_TRANSLATION\_INITIATION\_COMPLEX] (0,5)[GOBP\_REGULATION\_OF\_MITOCHONDRIAL\_GENE\_EXPRESSION] (0,4)[GOBP\_CYTOPLASMIC\_TRANSLATIONAL\_INITIATION] (0,3)[GOCC\_ESC\_E\_Z\_COMPLEX] (0,2)[GOCC\_CATALYTIC\_STEP\_2\_SPLICEOSOME] (0,1)[GOCC\_SPLICEOSOMAL\_COMPLEX]};
\end{axis}
\fill[downc] (677.3,718-265.7-2.8) rectangle ++(5.6,5.6);
\fill[upc] (677.3,718-274-2.8) rectangle ++(5.6,5.6);
\node[anchor=west, font=\fBT, inner sep=0pt] at (684.6,718-265.7) {DOWN};
\node[anchor=west, font=\fBT, inner sep=0pt] at (684.6,718-274) {UP};

% ================= (D) top =================
\node[anchor=west, font=\fPan, inner sep=0pt] at (270,718-378) {(D)};
\node[rotate=90, font=\fBT] at (280.7,718-448.3) {Term};
\begin{axis}[barax, at={(285bp,192.7bp)}, anchor=south west, width=390bp, xmin=-8.6, xmax=8.51, xtick={-5,0,5}]
\addplot[upbar] coordinates {(7.73,20)(6.92,19)(6.71,18)(6.63,17)(6.59,16)(6.47,15)(6.40,14)(6.40,13)(5.87,12)(5.74,11)};
\addplot[dnbar] coordinates {(-5.13,10)(-5.60,9)(-6.43,8)(-6.46,7)(-6.78,6)(-7.10,5)(-7.16,4)(-7.36,3)(-7.71,2)(-7.80,1)};
\addplot[uplab] coordinates {(0,20)[GOBP\_CALCIUM\_ION\_REGULATED\_EXOCYTOSIS\_OF\_NEUROTRANSMITTER] (0,19)[GOMF\_GABA\_RECEPTOR\_ACTIVITY] (0,18)[GOCC\_GABA\_RECEPTOR\_COMPLEX] (0,17)[GOBP\_OLFACTORY\_LOBE\_DEVELOPMENT] (0,16)[GOMF\_LIGAND\_GATED\_ANION\_CHANNEL\_ACTIVITY] (0,15)[GOBP\_SYNAPTIC\_MEMBRANE\_ADHESION] (0,14)[GOMF\_INHIBITORY\_EXTRACELLULAR\_LIGAND\_GATED\_ION\_CHANNEL\_ACTIVITY] (0,13)[GOCC\_PHOTORECEPTOR\_DISC\_MEMBRANE] (0,12)[GOBP\_GLUCOCORTICOID\_BIOSYNTHETIC\_PROCESS] (0,11)[GOMF\_ODORANT\_BINDING]};
\addplot[dnlab] coordinates {(0,10)[GOBP\_HISTONE\_MRNA\_METABOLIC\_PROCESS] (0,9)[GOCC\_U2\_TYPE\_CATALYTIC\_STEP\_2\_SPLICEOSOME] (0,8)[GOBP\_INTERLEUKIN\_7\_MEDIATED\_SIGNALING\_PATHWAY] (0,7)[GOBP\_NUCLEOTIDE\_EXCISION\_REPAIR\_PREINCISION\_COMPLEX\_STABILIZATION] (0,6)[GOBP\_SINGLE\_STRANDED\_VIRAL\_RNA\_REPLICATION\_VIA\_DOUBLE\_STRANDED\_DNA\_INTERMEDIATE] (0,5)[GOMF\_ATPASE\_ACTIVATOR\_ACTIVITY] (0,4)[GOBP\_MATURATION\_OF\_5\_8S\_RRNA] (0,3)[GOCC\_REPLISOME] (0,2)[GOBP\_HISTONE\_H3\_K27\_METHYLATION] (0,1)[GOBP\_NEGATIVE\_REGULATION\_OF\_HISTONE\_METHYLATION]};
\end{axis}
\fill[downc] (681.7,718-446.7-2.8) rectangle ++(5.6,5.6);
\fill[upc] (681.7,718-454.3-2.8) rectangle ++(5.6,5.6);
\node[anchor=west, font=\fBT, inner sep=0pt] at (689,718-446.7) {DOWN};
\node[anchor=west, font=\fBT, inner sep=0pt] at (689,718-454.3) {UP};

% ================= (D) bottom =================
\node[rotate=90, font=\fBT] at (279,718-630) {Term};
\begin{axis}[barax, at={(283bp,14bp)}, anchor=south west, height=155bp, width=397bp, xmin=-3.72, xmax=5.18, xtick={-2,0,2,4}]
\addplot[upbar] coordinates {(4.76,20)(3.87,19)(3.78,18)(3.59,17)(3.43,16)(3.40,15)(3.32,14)(3.29,13)(2.76,12)(2.58,11)};
\addplot[dnbar] coordinates {(-2.16,10)(-2.33,9)(-2.51,8)(-2.52,7)(-2.56,6)(-2.66,5)(-2.82,4)(-3.10,3)(-3.20,2)(-3.30,1)};
\addplot[uplab] coordinates {(0,20)[GOBP\_SYNAPSE\_MATURATION] (0,19)[GOBP\_TELENCEPHALON\_GLIAL\_CELL\_MIGRATION] (0,18)[GOBP\_POSITIVE\_REGULATION\_OF\_MONOCYTE\_CHEMOTAXIS] (0,17)[GOBP\_TRIGLYCERIDE\_BIOSYNTHETIC\_PROCESS] (0,16)[GOBP\_NEGATIVE\_REGULATION\_OF\_SYSTEMIC\_ARTERIAL\_BLOOD\_PRESSURE] (0,15)[GOBP\_POSITIVE\_REGULATION\_OF\_TRIGLYCERIDE\_METABOLIC\_PROCESS] (0,14)[GOBP\_REGULATION\_OF\_MONOCYTE\_CHEMOTAXIS] (0,13)[GOMF\_OXIDOREDUCTASE\_ACTIVITY\_ACTING\_ON\_THE\_CH\_NH2\_GROUP\_OF\_DONORS] (0,12)[GOBP\_NEGATIVE\_REGULATION\_OF\_RELEASE\_OF\_CYTOCHROME\_C\_FROM\_MITOCHONDRIA] (0,11)[GOBP\_VOCALIZATION\_BEHAVIOR]};
\addplot[dnlab] coordinates {(0,10)[GOCC\_PERICENTRIOLAR\_MATERIAL] (0,9)[GOCC\_POLYSOME] (0,8)[GOCC\_MRNA\_CLEAVAGE\_FACTOR\_COMPLEX] (0,7)[GOBP\_SIGNAL\_TRANSDUCTION\_INVOLVED\_IN\_REGULATION\_OF\_GENE\_EXPRESSION] (0,6)[GOBP\_TRNA\_TRANSPORT] (0,5)[GOBP\_SENSORY\_PERCEPTION\_OF\_BITTER\_TASTE] (0,4)[GOBP\_OLIGOSACCHARIDE\_LIPID\_INTERMEDIATE\_BIOSYNTHETIC\_PROCESS] (0,3)[GOMF\_GALACTOSYLTRANSFERASE\_ACTIVITY] (0,2)[GOMF\_UDP\_GALACTOSYLTRANSFERASE\_ACTIVITY] (0,1)[GOMF\_DNA\_REPLICATION\_ORIGIN\_BINDING]};
\end{axis}
\fill[downc] (685.7,718-626-2.8) rectangle ++(5.6,5.6);
\fill[upc] (685.7,718-633.3-2.8) rectangle ++(5.6,5.6);
\node[anchor=west, font=\fBT, inner sep=0pt] at (693,718-626) {DOWN};
\node[anchor=west, font=\fBT, inner sep=0pt] at (693,718-633.3) {UP};
\end{tikzpicture}
\end{document}
